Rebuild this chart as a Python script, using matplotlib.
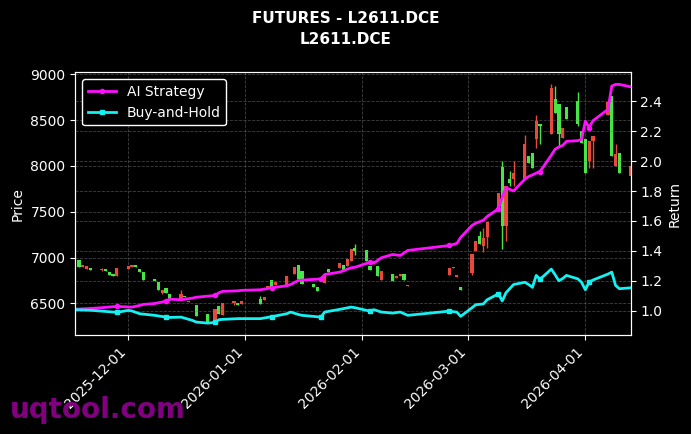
import pandas as pd
import matplotlib.pyplot as plt
import matplotlib.dates as mdates

# 캔들 데이터 (L2611.DCE)
candle_dates = ['2025-11-18', '2025-11-19', '2025-11-20', '2025-11-21', '2025-11-24', '2025-11-25',
                '2025-11-26', '2025-11-27', '2025-11-28', '2025-12-01', '2025-12-02', '2025-12-03',
                '2025-12-04', '2025-12-05', '2025-12-08', '2025-12-09', '2025-12-10', '2025-12-11',
                '2025-12-12', '2025-12-15', '2025-12-16', '2025-12-17', '2025-12-19', '2025-12-22',
                '2025-12-24', '2025-12-25', '2025-12-26', '2025-12-29', '2025-12-30', '2025-12-31',
                '2026-01-05', '2026-01-06', '2026-01-07', '2026-01-08', '2026-01-09', '2026-01-12',
                '2026-01-14', '2026-01-15', '2026-01-16', '2026-01-19', '2026-01-20', '2026-01-21',
                '2026-01-22', '2026-01-23', '2026-01-26', '2026-01-27', '2026-01-28', '2026-01-29',
                '2026-01-30', '2026-02-02', '2026-02-03', '2026-02-04', '2026-02-05', '2026-02-06',
                '2026-02-09', '2026-02-10', '2026-02-11', '2026-02-12', '2026-02-13', '2026-02-24',
                '2026-02-25', '2026-02-26', '2026-02-27', '2026-03-02', '2026-03-03', '2026-03-04',
                '2026-03-05', '2026-03-06', '2026-03-09', '2026-03-10', '2026-03-11', '2026-03-12',
                '2026-03-13', '2026-03-16', '2026-03-17', '2026-03-18', '2026-03-19', '2026-03-20',
                '2026-03-23', '2026-03-24', '2026-03-25', '2026-03-26', '2026-03-27', '2026-03-30',
                '2026-03-31', '2026-04-01', '2026-04-02', '2026-04-03', '2026-04-07', '2026-04-08',
                '2026-04-09', '2026-04-10', '2026-04-13']
opens = [6898, 6920, 6905, 6865, 6880, 6850, 6807, 6800, 6887, 6906, 6917, 6895,
         6843, 6760, 6741, 6643, 6643, 6613, 6540, 6602, 6569, 6530, 6365, 6284,
         6437, 6387, 6503, 6522, 6481, 6522, 6492, 6569, 6694, 6668, 6730, 6800,
         6895, 6766, 6716, 6675, 6632, 6640, 6804, 6843, 6942, 6858, 6979, 7089,
         7070, 6960, 6865, 6960, 6796, 6858, 6741, 6796, 6821, 6760, 6697, 6887,
         6892, 6804, 6650, 7041, 7180, 7150, 7216, 7390, 7709, 7344, 7779, 7816,
         7926, 8236, 8035, 7980, 8492, 8437, 8847, 8583, 8346, 8419, 8510, 8455,
         8254, 7926, 8273, 8328, 8700, 8109, 8126, 7926, 7999]
highs = [6968, 6920, 6905, 6884, 6885, 6870, 6840, 6815, 6887, 6906, 6920, 6917,
         6876, 6843, 6766, 6730, 6643, 6664, 6602, 6650, 6584, 6530, 6481, 6387,
         6437, 6475, 6503, 6522, 6503, 6522, 6580, 6569, 6694, 6752, 6730, 6800,
         6895, 6913, 6851, 6716, 6675, 6640, 6804, 6880, 6942, 6913, 6979, 7089,
         7144, 7081, 6906, 6960, 6906, 6858, 6815, 6796, 6821, 6821, 6697, 6887,
         6892, 6804, 6679, 7041, 7180, 7290, 7319, 7390, 7709, 8049, 7779, 7944,
         8054, 8342, 8109, 8145, 8561, 8455, 8890, 8876, 8675, 8419, 8638, 8802,
         8383, 8291, 8273, 8328, 8700, 8766, 8236, 8145, 7999]
lows = [6898, 6895, 6880, 6865, 6855, 6850, 6807, 6800, 6796, 6876, 6895, 6895,
        6843, 6760, 6741, 6643, 6600, 6613, 6540, 6547, 6569, 6515, 6365, 6284,
        6314, 6387, 6376, 6480, 6481, 6497, 6492, 6540, 6668, 6668, 6700, 6705,
        6815, 6766, 6716, 6675, 6632, 6630, 6723, 6843, 6887, 6858, 6906, 6960,
        7023, 6960, 6865, 6924, 6796, 6752, 6741, 6777, 6796, 6760, 6686, 6807,
        6885, 6788, 6650, 6810, 7070, 7150, 7063, 7109, 7509, 7092, 7180, 7780,
        7780, 7852, 8035, 7980, 8200, 8236, 8346, 8583, 8211, 8309, 8510, 8441,
        8254, 7926, 7980, 7980, 8554, 8109, 7999, 7926, 7889]
closes = [6968, 6895, 6880, 6884, 6865, 6870, 6840, 6815, 6796, 6876, 6895, 6917,
          6876, 6843, 6766, 6730, 6613, 6664, 6602, 6547, 6584, 6515, 6481, 6387,
          6314, 6475, 6376, 6503, 6503, 6497, 6547, 6540, 6668, 6752, 6700, 6705,
          6815, 6913, 6851, 6716, 6675, 6630, 6723, 6880, 6887, 6913, 6906, 6960,
          7106, 7081, 6906, 6924, 6906, 6752, 6815, 6777, 6796, 6821, 6686, 6807,
          6885, 6788, 6679, 6832, 7070, 7235, 7125, 7226, 7509, 7991, 7341, 7852,
          7852, 7852, 8109, 8145, 8291, 8455, 8346, 8730, 8675, 8309, 8638, 8712,
          8383, 8291, 8054, 8273, 8554, 8766, 7999, 8145, 7889]

# 수익률 곡선
line_dates = ['2025-11-17', '2025-11-21', '2025-11-24', '2025-11-28', '2025-12-01', '2025-12-02',
              '2025-12-04', '2025-12-05', '2025-12-08', '2025-12-09', '2025-12-11', '2025-12-12',
              '2025-12-15', '2025-12-18', '2025-12-19', '2025-12-22', '2025-12-24', '2025-12-25',
              '2025-12-26', '2025-12-30', '2025-12-31', '2026-01-05', '2026-01-08', '2026-01-12',
              '2026-01-13', '2026-01-15', '2026-01-16', '2026-01-19', '2026-01-21', '2026-01-22',
              '2026-01-26', '2026-01-29', '2026-01-30', '2026-02-03', '2026-02-04', '2026-02-06',
              '2026-02-09', '2026-02-11', '2026-02-13', '2026-02-24', '2026-02-26', '2026-02-27',
              '2026-03-02', '2026-03-03', '2026-03-05', '2026-03-06', '2026-03-09', '2026-03-10',
              '2026-03-11', '2026-03-13', '2026-03-16', '2026-03-17', '2026-03-18', '2026-03-19',
              '2026-03-20', '2026-03-23', '2026-03-24', '2026-03-25', '2026-03-26', '2026-03-27',
              '2026-03-30', '2026-03-31', '2026-04-01', '2026-04-02', '2026-04-03', '2026-04-07',
              '2026-04-08', '2026-04-09', '2026-04-10', '2026-04-13']
ai_return = [1.010, 1.015, 1.020, 1.029, 1.025, 1.024, 1.035, 1.042, 1.048, 1.053, 1.064, 1.077,
             1.073, 1.084, 1.090, 1.097, 1.102, 1.120, 1.129, 1.133, 1.136, 1.140, 1.153, 1.167,
             1.175, 1.202, 1.205, 1.209, 1.213, 1.242, 1.258, 1.287, 1.290, 1.324, 1.318, 1.354,
             1.376, 1.369, 1.403, 1.436, 1.450, 1.490, 1.570, 1.585, 1.605, 1.630, 1.681, 1.760,
             1.823, 1.800, 1.880, 1.897, 1.908, 1.920, 1.930, 2.040, 2.080, 2.095, 2.105, 2.132,
             2.137, 2.146, 2.268, 2.224, 2.270, 2.346, 2.502, 2.513, 2.513, 2.497]
bh_return = [1.007, 1.003, 0.997, 0.989, 1.002, 0.998, 0.980, 0.977, 0.969, 0.965, 0.957, 0.955,
             0.957, 0.935, 0.924, 0.917, 0.922, 0.940, 0.942, 0.947, 0.947, 0.947, 0.960, 0.980,
             0.991, 0.975, 0.969, 0.962, 0.957, 0.991, 1.009, 1.024, 1.020, 0.997, 1.007, 0.991,
             0.984, 0.991, 0.969, 0.997, 0.990, 0.962, 1.020, 1.040, 1.045, 1.073, 1.113, 1.065,
             1.120, 1.175, 1.190, 1.175, 1.156, 1.236, 1.210, 1.278, 1.240, 1.200, 1.215, 1.236,
             1.213, 1.190, 1.140, 1.191, 1.205, 1.245, 1.258, 1.169, 1.147, 1.153]
marker_dates = ['2025-11-28', '2025-12-11', '2025-12-24', '2026-01-08', '2026-01-21',
                '2026-02-03', '2026-02-24', '2026-03-09', '2026-03-20', '2026-04-02']

df = pd.DataFrame({'open': opens, 'high': highs, 'low': lows, 'close': closes},
                  index=pd.to_datetime(candle_dates))
ret = pd.DataFrame({'ai': ai_return, 'bh': bh_return}, index=pd.to_datetime(line_dates))
mark_idx = [line_dates.index(d) for d in marker_dates]

up_color = '#45e645'
down_color = '#e8493c'

fig, ax = plt.subplots(figsize=(6.91, 4.34), dpi=100)
fig.patch.set_facecolor('black')
ax.set_facecolor('black')
fig.subplots_adjust(left=0.109, right=0.9127, bottom=0.228, top=0.833)
ax.use_sticky_edges = False

colors = [up_color if c >= o else down_color for o, c in zip(df['open'], df['close'])]
body_low = df[['open', 'close']].min(axis=1)
body_h = (df['close'] - df['open']).abs()
ax.vlines(df.index, df['low'], df['high'], colors=colors, linewidth=1)
ax.bar(df.index, body_h, bottom=body_low, width=0.85, color=colors, linewidth=0)

ax2 = ax.twinx()
ax2.plot(ret.index, ret['ai'], color='#ff10ff', linewidth=2, marker='o', markersize=3,
         markevery=mark_idx, label='AI Strategy')
ax2.plot(ret.index, ret['bh'], color='#15f0f0', linewidth=2, marker='s', markersize=3,
         markevery=mark_idx, label='Buy-and-Hold')

ax.set_xlim(ret.index[0], ret.index[-1])
ax.set_yticks([6500, 7000, 7500, 8000, 8500, 9000])
ax2.set_yticks([1.0, 1.2, 1.4, 1.6, 1.8, 2.0, 2.2, 2.4])
ax2.yaxis.set_major_formatter(plt.FormatStrFormatter('%.1f'))
ax.xaxis.set_major_locator(mdates.MonthLocator())
ax.xaxis.set_major_formatter(mdates.DateFormatter('%Y-%m-%d'))
plt.setp(ax.get_xticklabels(), rotation=45, ha='right')

for a in (ax, ax2):
    a.tick_params(colors='white', labelsize=10)
    for s in a.spines.values():
        s.set_color('white')
ax.grid(True, color='gray', linestyle='--', linewidth=0.6, alpha=0.5)
ax2.grid(True, axis='y', color='gray', linestyle='--', linewidth=0.6, alpha=0.5)

ax.set_ylabel('Price', color='white', fontsize=10)
ax2.set_ylabel('Return', color='white', fontsize=10)

leg = ax2.legend(loc='upper left', fontsize=10, facecolor='black', edgecolor='white',
                 labelcolor='white', framealpha=1)

fig.suptitle('FUTURES - L2611.DCE\nL2611.DCE', color='white', fontsize=11,
             fontweight='bold', y=0.975, va='top', linespacing=1.55)
fig.text(0.014, 0.037, 'uqtool.com', color='#800080', fontsize=20, fontweight='bold',
         va='baseline', ha='left')

plt.savefig('out.png', dpi=100, facecolor=fig.get_facecolor())
